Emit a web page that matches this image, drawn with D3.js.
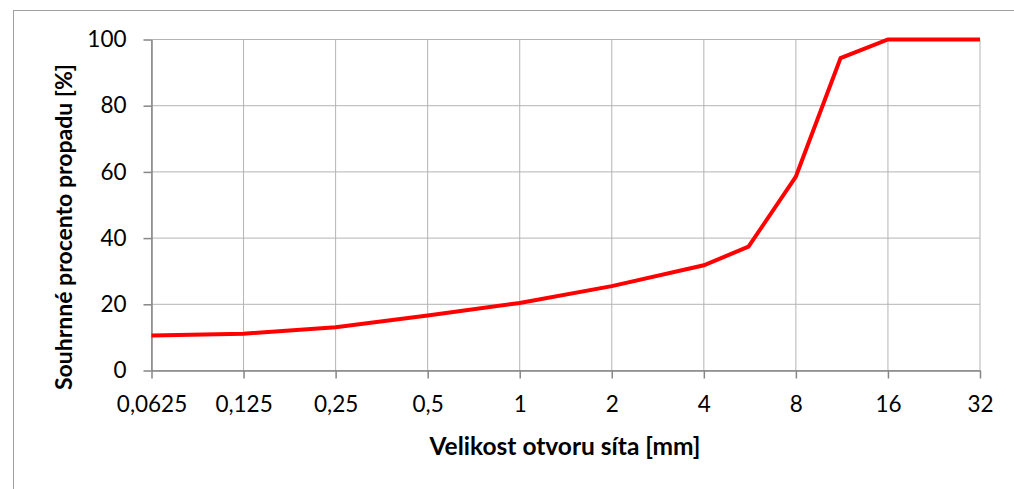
<!DOCTYPE html>
<html>
<head>
<meta charset="utf-8">
<script src="https://cdn.jsdelivr.net/npm/d3@7"></script>
<style>
  body { margin: 0; background: #fff; }
  svg { display: block; }
</style>
</head>
<body>
<div id="chart"></div>
<script>
const WIDTH = 1014;
const HEIGHT = 489;

// data
const sieveSizes = [0.0625, 0.125, 0.25, 0.5, 1, 2, 4, 5.6, 8, 11.2, 16, 32];
const passing = [10.6, 11.1, 13.1, 16.6, 20.4, 25.5, 31.8, 37.4, 58.6, 94.4, 100, 100];
const xTicks = [0.0625, 0.125, 0.25, 0.5, 1, 2, 4, 8, 16, 32];
const xTickLabels = ['0,0625', '0,125', '0,25', '0,5', '1', '2', '4', '8', '16', '32'];
const yTicks = [0, 20, 40, 60, 80, 100];

const margin = { left: 151.5, right: 34, top: 39.5, bottom: 118.5 };

const svg = d3.select('#chart').append('svg')
    .attr('width', WIDTH).attr('height', HEIGHT);

// outer chart frame
svg.append('rect')
    .attr('x', 13.5).attr('y', 10.5)
    .attr('width', WIDTH + 20).attr('height', HEIGHT + 20)
    .attr('fill', 'none').attr('stroke', '#a0a0a0').attr('stroke-width', 1);

const x = d3.scaleLog().base(2)
    .domain([0.0625, 32])
    .range([margin.left, WIDTH - margin.right]);
const y = d3.scaleLinear()
    .domain([0, 100])
    .range([HEIGHT - margin.bottom, margin.top]);

const g_grid = svg.append('g').attr('id', 'grid');

// horizontal grid
g_grid.selectAll('line.h').data(yTicks).join('line')
    .attr('class', 'h')
    .attr('x1', x.range()[0]).attr('x2', x.range()[1])
    .attr('y1', d => y(d)).attr('y2', d => y(d))
    .attr('stroke', '#b4b4b4').attr('stroke-width', 1);

// vertical grid
g_grid.selectAll('line.v').data(xTicks).join('line')
    .attr('class', 'v')
    .attr('x1', d => x(d)).attr('x2', d => x(d))
    .attr('y1', y(0)).attr('y2', y(100))
    .attr('stroke', '#b4b4b4').attr('stroke-width', 1);

// axes
const xAxis = d3.axisBottom(x)
    .tickValues(xTicks)
    .tickFormat((d, i) => xTickLabels[i])
    .tickSize(8).tickPadding(18).tickSizeOuter(0);

const yAxis = d3.axisLeft(y)
    .tickValues(yTicks)
    .tickSize(8).tickPadding(17).tickSizeOuter(0);

const gx = svg.append('g')
    .attr('transform', `translate(0, ${y(0)})`)
    .call(xAxis);

const gy = svg.append('g')
    .attr('transform', `translate(${x.range()[0]}, 0)`)
    .call(yAxis);

[gx, gy].forEach(ax => {
    ax.select('.domain').attr('stroke', '#868686').attr('stroke-width', 1.5);
    ax.selectAll('.tick line').attr('stroke', '#868686').attr('stroke-width', 1.5);
    ax.selectAll('.tick text')
        .attr('fill', '#000')
        .attr('font-family', 'Lato, sans-serif')
        .attr('font-size', 22.5);
});

// curve
const line = d3.line()
    .x((d, i) => x(sieveSizes[i]))
    .y(d => y(d));

svg.append('path')
    .datum(passing)
    .attr('d', line)
    .attr('fill', 'none')
    .attr('stroke', '#ff0000')
    .attr('stroke-width', 4)
    .attr('stroke-linejoin', 'miter');

// axis titles
svg.append('text')
    .attr('x', 565).attr('y', 455)
    .attr('text-anchor', 'middle')
    .attr('font-family', 'Lato, sans-serif')
    .attr('font-weight', 'bold')
    .attr('font-size', 24.5)
    .text('Velikost otvoru síta [mm]');

svg.append('text')
    .attr('transform', 'translate(72, 227) rotate(-90)')
    .attr('text-anchor', 'middle')
    .attr('font-family', 'Lato, sans-serif')
    .attr('font-weight', 'bold')
    .attr('font-size', 23)
    .text('Souhrnné procento propadu [%]');
</script>
</body>
</html>
